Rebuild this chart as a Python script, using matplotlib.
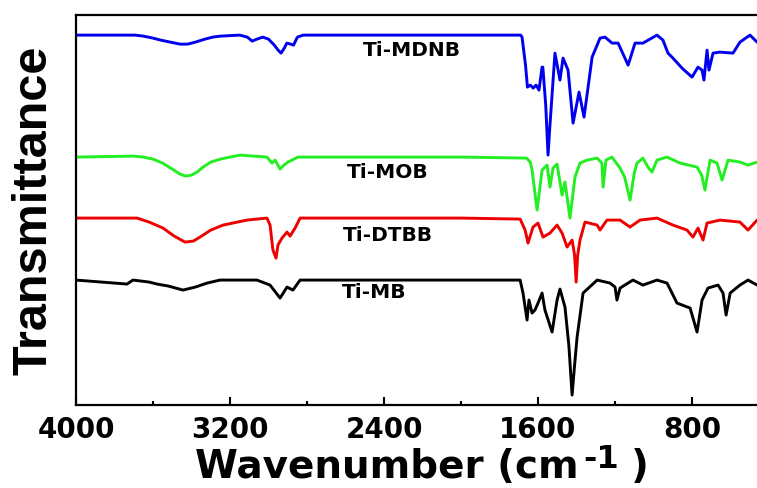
import numpy as np
import matplotlib.pyplot as plt
from matplotlib.ticker import MultipleLocator

# spectra (wavenumber in cm-1, transmittance in a.u., stacked)
mdnb_wn = [4000, 3693, 3650, 3600, 3560, 3510, 3460, 3420, 3380, 3330, 3290, 3250, 3150, 3110,
           3085, 3060, 3030, 3000, 2970, 2950, 2935, 2918, 2905, 2885, 2870, 2850, 2820, 2400,
           2000, 1690, 1683, 1665, 1655, 1640, 1625, 1610, 1595, 1579, 1575, 1560, 1548, 1538,
           1512, 1486, 1470, 1444, 1418, 1387, 1361, 1340, 1319, 1278, 1252, 1215, 1184, 1132,
           1096, 1055, 982, 951, 925, 904, 852, 800, 769, 748, 738, 722, 712, 691, 655, 587,
           551, 499, 462, 400]
mdnb_t = [370, 370, 369, 367, 365, 363, 361, 361, 363, 366, 368, 369, 370, 368,
          364, 366, 368, 366, 360, 355, 352, 357, 362, 361, 360, 368, 370, 370,
          370, 370, 368, 340, 318, 320, 317, 320, 315, 338, 338, 300, 250, 280,
          352, 325, 347, 335, 282, 313, 288, 318, 348, 367, 368, 362, 362, 340,
          362, 362, 370, 365, 352, 348, 337, 328, 338, 335, 325, 355, 335, 352, 353, 352,
          363, 370, 363, 360]

mob_wn = [4000, 3700, 3650, 3600, 3550, 3500, 3460, 3430, 3400, 3371, 3340, 3300, 3250, 3200,
          3148, 3008, 2982, 2966, 2940, 2920, 2899, 2847, 2400, 2000, 1660, 1640, 1631, 1605,
          1579, 1553, 1538, 1522, 1501, 1475, 1460, 1434, 1408, 1382, 1345, 1293, 1268, 1262,
          1247, 1216, 1174, 1150, 1122, 1100, 1086, 1055, 1029, 1008, 982, 930, 862, 774, 750,
          733, 718, 706, 670, 644, 613, 551, 509, 462, 400]
mob_t = [248, 249, 248, 246, 242, 236, 231, 229, 230, 233, 238, 243, 246, 248,
         250, 248, 242, 245, 236, 240, 243, 248, 248, 248, 247, 243, 235, 195,
         235, 240, 218, 237, 241, 210, 223, 187, 228, 242, 245, 247, 242, 218,
         245, 248, 237, 228, 205, 232, 242, 247, 238, 233, 245, 248, 242, 238, 230,
         215, 232, 245, 242, 225, 245, 243, 240, 243, 245]

dtbb_wn = [4000, 3683, 3620, 3548, 3490, 3434, 3390, 3356, 3300, 3236, 3112, 3008, 2992, 2977,
           2961, 2951, 2930, 2904, 2888, 2862, 2836, 2400, 2000, 1693, 1667, 1652, 1626, 1600,
           1574, 1538, 1501, 1475, 1449, 1423, 1410, 1402, 1394, 1382, 1356, 1293, 1278, 1242,
           1174, 1122, 1070, 982, 899, 826, 795, 769, 743, 722, 655, 551, 509, 462, 400]
dtbb_t = [187, 187, 183, 177, 169, 163, 164, 168, 175, 180, 185, 187, 180, 155,
          147, 160, 167, 173, 169, 177, 187, 187, 187, 186, 175, 162, 178, 182,
          168, 172, 180, 172, 158, 165, 150, 123, 150, 165, 183, 180, 175, 185,
          185, 178, 185, 187, 180, 175, 168, 177, 165, 182, 185, 183, 175, 185, 187]

mb_wn = [4000, 3735, 3704, 3620, 3579, 3520, 3444, 3380, 3319, 3252, 3060, 2992, 2940, 2904,
         2873, 2836, 2400, 2000, 1693, 1678, 1657, 1647, 1631, 1616, 1600, 1579, 1564, 1527,
         1501, 1486, 1460, 1440, 1423, 1410, 1397, 1366, 1293, 1226, 1200, 1190, 1174, 1107,
         1055, 982, 930, 878, 810, 774, 748, 717, 665, 639, 623, 602, 551, 509, 462, 400]
mb_t = [125, 121, 125, 123, 121, 119, 115, 118, 122, 125, 125, 120, 107, 118,
        115, 125, 125, 125, 125, 112, 85, 105, 92, 95, 102, 112, 95, 73,
        105, 116, 98, 60, 10, 40, 68, 112, 125, 122, 118, 105, 117, 125,
        120, 125, 122, 102, 97, 73, 105, 117, 120, 112, 90, 112, 120, 125, 120, 118]

names = ['Ti-MDNB', 'Ti-MOB', 'Ti-DTBB', 'Ti-MB']
colors = ['#0000ee', '#22ee22', '#ee0000', 'black']
label_x = [2509, 2592, 2613, 2618]
label_y = [355, 233, 170, 113]

fig = plt.figure(figsize=(7.57, 4.88), dpi=100)
ax = fig.add_axes([0.1004, 0.170, 0.9155, 0.799])

for wn, t, c in zip([mdnb_wn, mob_wn, dtbb_wn, mb_wn], [mdnb_t, mob_t, dtbb_t, mb_t], colors):
    ax.plot(wn, t, color=c, lw=2.1, solid_joinstyle='round')

for name, lx, ly in zip(names, label_x, label_y):
    ax.text(lx, ly, name, ha='left', va='center', fontsize=14.5,
            fontweight='bold', family='DejaVu Sans')

ax.set_xlim(4000, 400)
ax.set_ylim(0, 390)
ax.xaxis.set_major_locator(MultipleLocator(800))
ax.xaxis.set_minor_locator(MultipleLocator(400))
ax.set_yticks([])
ax.tick_params(axis='x', which='major', direction='in', length=6, width=1.5, pad=8,
               labelsize=20)
ax.tick_params(axis='x', which='minor', direction='in', length=3, width=1.5)
for lab in ax.get_xticklabels():
    lab.set_fontweight('bold')
    lab.set_family('DejaVu Sans')
for s in ax.spines.values():
    s.set_linewidth(1.6)

ax.set_ylabel('Transmittance', fontsize=35, fontweight='bold',
              family='Liberation Sans', labelpad=14)

# x label with a full-size raised "-1", built from three pieces
W, H = fig.get_size_inches() * fig.dpi
base_y = (H - 478) / H
r = fig.canvas.get_renderer()
kw = dict(fontweight='bold', family='DejaVu Sans', va='baseline', ha='left')
t1 = fig.text(0, base_y, 'Wavenumber (cm', fontsize=28, **kw)
t2 = fig.text(0, base_y + 10 / H, '-1', fontsize=23, **kw)
t3 = fig.text(0, base_y, ')', fontsize=28, **kw)
w1 = t1.get_window_extent(r).width
w2 = t2.get_window_extent(r).width
w3 = t3.get_window_extent(r).width
gap1, gap2 = 4, 12
total = w1 + gap1 + w2 + gap2 + w3
x0 = 422 - total / 2
t1.set_x(x0 / W)
t2.set_x((x0 + w1 + gap1) / W)
t3.set_x((x0 + w1 + gap1 + w2 + gap2) / W)

fig.savefig('out.png', dpi=100)
